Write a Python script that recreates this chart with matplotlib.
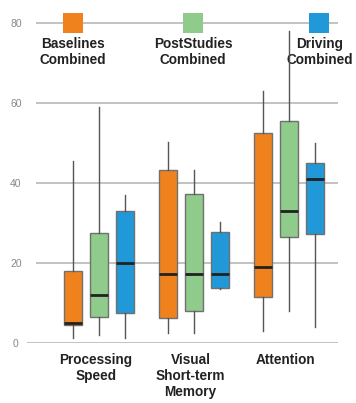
import matplotlib
matplotlib.use("Agg")
import matplotlib.pyplot as plt

categories = ["Processing\nSpeed", "Visual\nShort-term\nMemory", "Attention"]
series = ["Baselines\nCombined", "PostStudies\nCombined", "Driving\nCombined"]
colors = ["#F0821E", "#8FCB8B", "#2199D8"]

medians = {
    "Baselines\nCombined": [5, 17.3, 19],
    "PostStudies\nCombined": [12, 17.3, 33],
    "Driving\nCombined": [20, 17.3, 41],
}
q1s = {
    "Baselines\nCombined": [4.5, 6.3, 11.5],
    "PostStudies\nCombined": [6.6, 8, 26.5],
    "Driving\nCombined": [7.6, 13.8, 27.25],
}
q3s = {
    "Baselines\nCombined": [18, 43.25, 52.5],
    "PostStudies\nCombined": [27.5, 37.25, 55.4],
    "Driving\nCombined": [33, 27.75, 45],
}
whislo = {
    "Baselines\nCombined": [1.2, 2.5, 3],
    "PostStudies\nCombined": [2, 2.5, 8],
    "Driving\nCombined": [1.2, 13.5, 4],
}
whishi = {
    "Baselines\nCombined": [45.6, 50.2, 63],
    "PostStudies\nCombined": [59, 43.25, 78],
    "Driving\nCombined": [37, 30.2, 50],
}
yticks = [0, 20, 40, 60, 80]

plt.rcParams['font.family'] = ['Liberation Sans', 'DejaVu Sans']

fig = plt.figure(figsize=(3.56, 4.03), dpi=100)
ax = fig.add_axes([27/356, 60/403, 311/356, 343/403])
ax.set_ylim(0, 85.75)
ax.set_xlim(-0.758, 2.516)

offset = 0.274
width = 0.19

# gridlines
ax.hlines(yticks[1:], -0.663, 2.516, color="#BDBDBD", lw=1.3, zorder=0)
ax.hlines([yticks[0]], -0.758, 2.516, color="#BDBDBD", lw=1.3, zorder=0)

for si, name in enumerate(series):
    stats = []
    for ci in range(len(categories)):
        stats.append(dict(med=medians[name][ci], q1=q1s[name][ci], q3=q3s[name][ci],
                          whislo=whislo[name][ci], whishi=whishi[name][ci], fliers=[]))
    pos = [ci + (si - 1) * offset for ci in range(len(categories))]
    ax.bxp(stats, positions=pos, widths=width, patch_artist=True, showcaps=False,
           showfliers=False, manage_ticks=False,
           boxprops=dict(facecolor=colors[si], edgecolor="#707070", lw=1.0),
           medianprops=dict(color="#222222", lw=2.0),
           whiskerprops=dict(color="#555555", lw=1.0))

# legend
leg_x = [-offset, 1 - 0.01, 2 + 0.32]
for si, name in enumerate(series):
    ax.scatter([leg_x[si]], [80], marker='s', s=205, color=colors[si], zorder=3,
               clip_on=False, linewidths=0)
    ax.text(leg_x[si], 76.6, name, ha='center', va='top', fontsize=9.8,
            fontweight='bold', color="#222222", linespacing=1.22, zorder=1)

# y ticks
ax.set_yticks(yticks)
ax.set_yticklabels([str(t) for t in yticks])
ax.tick_params(axis='y', length=0, pad=8, labelsize=7.5, labelcolor="#888888")
for lab in ax.get_yticklabels():
    lab.set_ha('center')
ax.set_xticks([])
for s in ax.spines.values():
    s.set_visible(False)

# category labels
for ci, cat in enumerate(categories):
    ax.text(ci - 0.035, -2.6, cat, ha='center', va='top', fontsize=9.8,
            fontweight='bold', color="#222222", linespacing=1.15, clip_on=False)

fig.savefig("out.png", dpi=100)
